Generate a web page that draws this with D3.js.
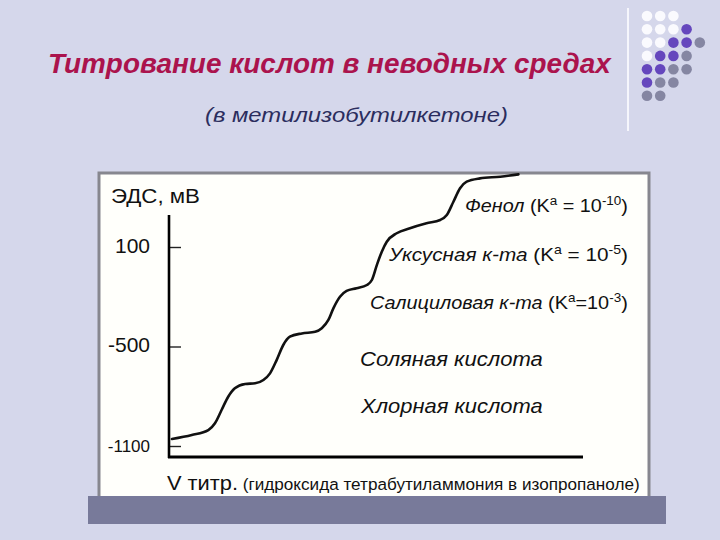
<!DOCTYPE html>
<html><head><meta charset="utf-8">
<script src="https://cdn.jsdelivr.net/npm/d3@7"></script>
<style>
body{margin:0;background:#d5d7eb;}
svg{display:block;font-family:"Liberation Sans",Arial,sans-serif;}
</style>
</head><body>
<svg id="c" width="720" height="540"></svg>
<script>
// ---- data ----
const titleText = "Титрование кислот в неводных средах";
const subtitleText = "(в метилизобутилкетоне)";
const yAxisTitle = "ЭДС, мВ";
const xAxisTitle = "V титр.";
const xAxisNote = "(гидроксида тетрабутиламмония в изопропаноле)";
const yTicks = [100, -500, -1100];
const yTickLabels = ["100", "-500", "-1100"];
// titrant volume (arbitrary units) and EMF, mV
const volume = [0.7, 5.5, 9.5, 11.1, 12.7, 14.3, 15.9, 18.4, 20.8, 22.8, 24.4, 26.0, 27.6, 29.2, 32.1, 35.3, 36.9, 38.5, 39.7, 41.3, 42.9, 45.3, 47.8, 49.0, 50.2, 51.4, 52.6, 55.0, 58.2, 62.2, 65.5, 67.1, 68.7, 70.3, 71.9, 75.1, 80.0, 84.4];
const emf = [-1058, -1034, -1004, -963, -883, -803, -752, -726, -722, -702, -662, -582, -491, -441, -421, -411, -390, -340, -270, -200, -165, -149, -129, -99, -9, 72, 132, 183, 213, 243, 263, 293, 373, 454, 494, 514, 524, 538];
const acidNames = ["Фенол", "Уксусная к-та", "Салициловая к-та", "Соляная кислота", "Хлорная кислота"];
const acidKaExp = ["-10", "-5", "-3", null, null];
const acidKaSep = [" = ", " = ", "=", null, null];
// decorative dot grid: w = white, p = purple, g = grey
const dotRows = ["www", "wwwp", "wwppg", "wppg", "ppgg", "pgg", "gg"];

// ---- drawing ----
const svg = d3.select("#c");
const dotColor = {w: "#fafafe", p: "#6547bd", g: "#8586a2"};

// fit helper: stretch a group horizontally to a target width
function fit(g, x, y, w) {
  const b = g.node().getBBox();
  const sx = w / b.width;
  g.attr("transform", `translate(${x - b.x * sx},${y}) scale(${sx},1)`);
}

// title
const tg = svg.append("g");
tg.append("text").text(titleText)
  .attr("font-size", 27).attr("font-weight", "bold").attr("font-style", "italic")
  .attr("fill", "#ab134d");
fit(tg, 48, 73, 564);

const sg = svg.append("g");
sg.append("text").text(subtitleText)
  .attr("font-size", 20.5).attr("font-style", "italic").attr("fill", "#2b2d5e");
fit(sg, 205, 122, 303);

// divider + dots
svg.append("line").attr("x1", 628).attr("x2", 628).attr("y1", 8).attr("y2", 131)
  .attr("stroke", "#f6f6fc").attr("stroke-width", 2);
dotRows.forEach((row, r) => {
  row.split("").forEach((c, k) => {
    svg.append("circle").attr("cx", 647 + k * 13.2).attr("cy", 16 + r * 13.3)
      .attr("r", 5.3).attr("fill", dotColor[c]);
  });
});

// picture frame
svg.append("rect").attr("x", 99).attr("y", 173).attr("width", 550).attr("height", 330)
  .attr("fill", "#fffffb").attr("stroke", "#87878f").attr("stroke-width", 3);
// bottom band
svg.append("rect").attr("x", 88).attr("y", 496).attr("width", 578).attr("height", 28)
  .attr("fill", "#787a9a");

// scales
const x = d3.scaleLinear().domain([0, 100]).range([169, 583]);
const y = d3.scaleLinear().domain([-1100, 100]).range([446, 247]);

// y axis ticks
const ya = svg.append("g").attr("transform", "translate(169,0)")
  .call(d3.axisLeft(y).tickValues(yTicks).tickSize(-12).tickPadding(19)
    .tickFormat((d, i) => yTickLabels[i]));
ya.select(".domain").remove();
ya.selectAll(".tick line").attr("stroke", "#222").attr("stroke-width", 1.4);
ya.selectAll(".tick text").attr("fill", "#111")
  .attr("font-family", "'Liberation Sans',Arial,sans-serif")
  .attr("font-size", (d, i) => i === 2 ? 17 : 21)
  .attr("dy", (d, i) => i === 2 ? "0.3em" : "0.25em");

// axis lines
svg.append("line").attr("x1", 169).attr("x2", 169).attr("y1", 215).attr("y2", 458)
  .attr("stroke", "#000").attr("stroke-width", 2.6);
svg.append("line").attr("x1", 168).attr("x2", x(100)).attr("y1", 457).attr("y2", 457)
  .attr("stroke", "#000").attr("stroke-width", 3);

// curve
const pts = volume.map((v, i) => [v, emf[i]]);
svg.append("path").datum(pts)
  .attr("d", d3.line().x(d => x(d[0])).y(d => y(d[1])).curve(d3.curveMonotoneX))
  .attr("fill", "none").attr("stroke", "#111").attr("stroke-width", 2.6)
  .attr("stroke-linejoin", "round").attr("stroke-linecap", "round");

// axis titles
const yt = svg.append("g");
yt.append("text").text(yAxisTitle).attr("font-size", 21).attr("fill", "#111");
fit(yt, 111, 203, 89);

const xt = svg.append("g");
const xtt = xt.append("text").attr("fill", "#111");
xtt.append("tspan").text(xAxisTitle).attr("font-size", 21);
xtt.append("tspan").text(" " + xAxisNote).attr("font-size", 16.5);
fit(xt, 167, 490, 473);

// acid labels
const labelPos = [
  {x: 465, y: 212, w: 163, fs: 19},
  {x: 388, y: 261, w: 240, fs: 19},
  {x: 370, y: 309, w: 258, fs: 18},
  {x: 360, y: 366, w: 183, fs: 19.5},
  {x: 360, y: 413, w: 183, fs: 19.5}
];
acidNames.forEach((name, i) => {
  const p = labelPos[i];
  const g = svg.append("g");
  const t = g.append("text").attr("fill", "#111").attr("font-size", p.fs);
  t.append("tspan").text(name).attr("font-style", "italic");
  if (acidKaExp[i] !== null) {
    t.append("tspan").text(i === 2 ? "  (K" : " (K");
    t.append("tspan").text("a").attr("font-size", p.fs * 0.68).attr("dy", -7);
    t.append("tspan").text(acidKaSep[i] + "10").attr("dy", 7);
    t.append("tspan").text(acidKaExp[i]).attr("font-size", p.fs * 0.68).attr("dy", -7);
    t.append("tspan").text(")").attr("dy", 7);
  }
  fit(g, p.x, p.y, p.w);
});
</script>
</body></html>
